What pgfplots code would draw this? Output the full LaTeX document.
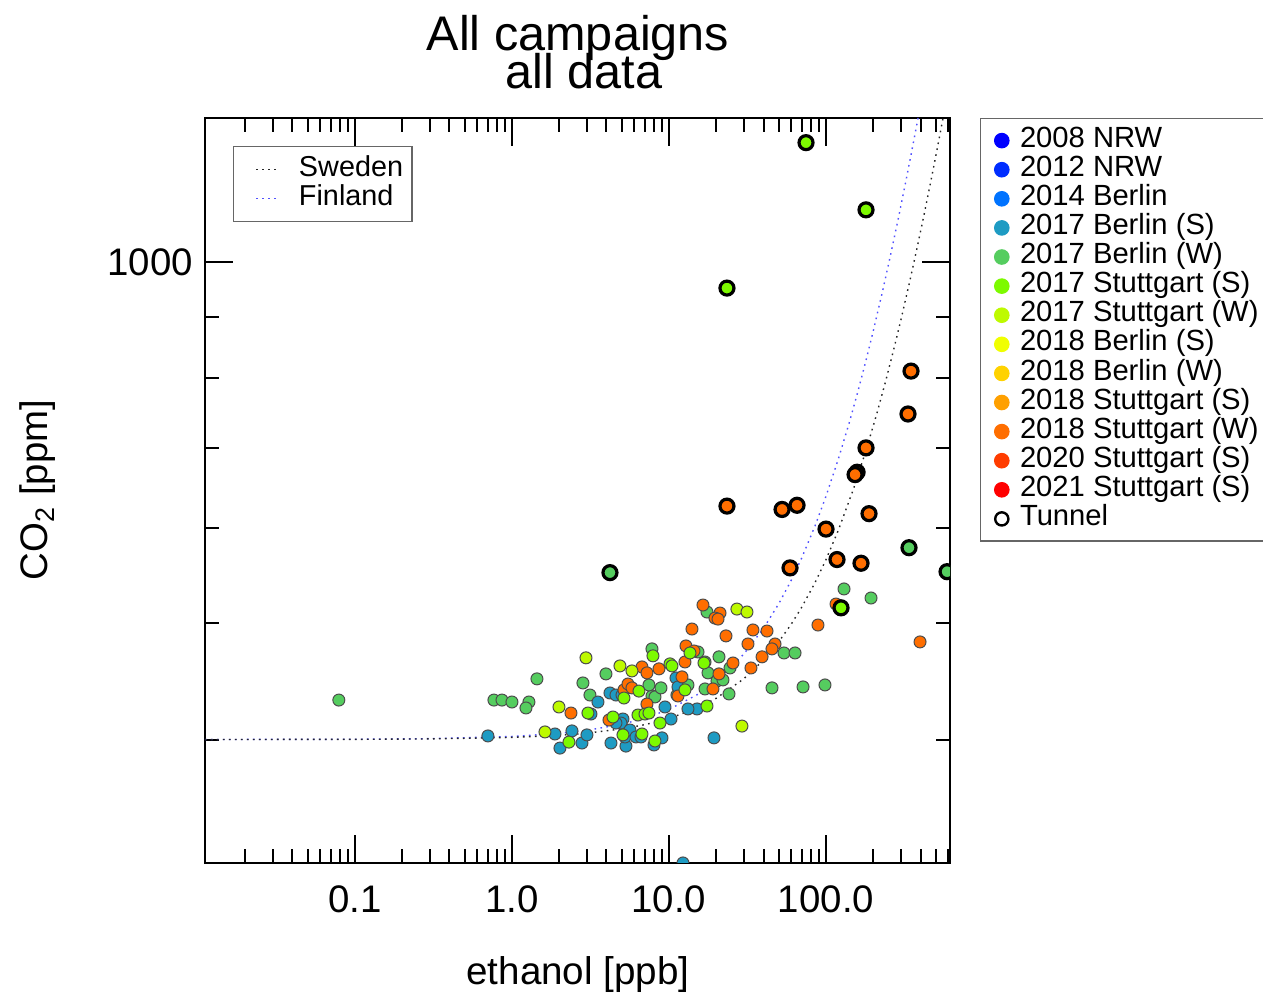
\documentclass[border=0pt]{standalone}
\usepackage{fontspec}
\setmainfont{Liberation Sans}
\usepackage{pgfplots}
\pgfplotsset{compat=1.18}

\definecolor{cA}{RGB}{0,0,255}
\definecolor{cB}{RGB}{0,45,255}
\definecolor{cC}{RGB}{0,115,255}
\definecolor{cD}{RGB}{30,155,195}
\definecolor{cE}{RGB}{85,205,95}
\definecolor{cF}{RGB}{125,250,0}
\definecolor{cG}{RGB}{190,250,0}
\definecolor{cH}{RGB}{240,255,0}
\definecolor{cI}{RGB}{255,210,0}
\definecolor{cJ}{RGB}{255,160,0}
\definecolor{cK}{RGB}{255,110,0}
\definecolor{cL}{RGB}{255,60,0}
\definecolor{cM}{RGB}{255,0,0}
\definecolor{finl}{RGB}{80,80,255}

\tikzset{
  dotpt/.style={only marks, mark=*, mark size=3pt, mark options={draw=black!70, line width=0.5pt, fill=#1}},
  tunpt/.style={only marks, mark=*, mark size=3.5pt, mark options={draw=black, line width=1.6pt, fill=#1}},
  legpt/.style={only marks, mark=*, mark size=3.6pt, mark options={draw=#1, fill=#1}},
  swedenline/.style={black!85, line width=0.7pt, dash pattern=on 0.8pt off 2.2pt},
  finlandline/.style={finl, line width=0.7pt, dash pattern=on 0.8pt off 2.2pt},
}

\begin{document}
\begin{tikzpicture}
\begin{axis}[name=ax, scale only axis, width=372.5pt, height=372.5pt,
  xmode=log, ymode=log, xmin=0.0111, xmax=616, ymin=315.7, ymax=1318,
  clip marker paths=true,
  xtick={0.1,1,10,100}, xticklabels={0.1,1.0,10.0,100.0},
  minor xtick={0.02,0.03,0.04,0.05,0.06,0.07,0.08,0.09,0.2,0.3,0.4,0.5,0.6,0.7,0.8,0.9,2,3,4,5,6,7,8,9,20,30,40,50,60,70,80,90,200,300,400,500,600},
  ytick={1000}, yticklabels={1000},
  minor ytick={400,500,600,700,800,900},
  major tick length=14pt, minor tick length=7pt,
  tick style={black, line width=1pt},
  axis line style={line width=1.2pt},
  tick label style={font=\fontsize{19.2}{21}\selectfont},
  xticklabel style={anchor=base, yshift=-25pt},
  yticklabel style={anchor=east, xshift=-2.5pt},
  legend style={at={(1,1)}, anchor=north west, xshift=15pt, draw=black!60, line width=0.6pt,
    font=\fontsize{14.6}{14.5}\selectfont, inner xsep=7pt, inner ysep=3.75pt, column sep=3.5pt,
    nodes={inner xsep=2pt, inner ysep=0pt, text height=10.6pt, text depth=3.95pt}},
  legend cell align=left,
  legend image code/.code={\draw[#1] plot coordinates {(0pt,0pt)};},
]
\addlegendimage{legpt=cA}\addlegendentry{2008 NRW}
\addlegendimage{legpt=cB}\addlegendentry{2012 NRW}
\addlegendimage{legpt=cC}\addlegendentry{2014 Berlin}
\addlegendimage{legpt=cD}\addlegendentry{2017 Berlin (S)}
\addlegendimage{legpt=cE}\addlegendentry{2017 Berlin (W)}
\addlegendimage{legpt=cF}\addlegendentry{2017 Stuttgart (S)}
\addlegendimage{legpt=cG}\addlegendentry{2017 Stuttgart (W)}
\addlegendimage{legpt=cH}\addlegendentry{2018 Berlin (S)}
\addlegendimage{legpt=cI}\addlegendentry{2018 Berlin (W)}
\addlegendimage{legpt=cJ}\addlegendentry{2018 Stuttgart (S)}
\addlegendimage{legpt=cK}\addlegendentry{2018 Stuttgart (W)}
\addlegendimage{legpt=cL}\addlegendentry{2020 Stuttgart (S)}
\addlegendimage{legpt=cM}\addlegendentry{2021 Stuttgart (S)}
\addlegendimage{only marks, mark=o, mark size=3.3pt, black, line width=1.2pt}\addlegendentry{Tunnel}

% Finland and Sweden emission lines
\addplot[finlandline, forget plot] coordinates {(0.0111,400.03) (0.1,400.24) (0.3,400.71) (1,402.38) (2,404.76) (3,407.14) (5,411.9) (7,416.66) (10,423.8) (15,435.7) (20,447.6) (30,471.4) (40,495.2) (50,519) (60,542.8) (70,566.6) (85,602.3) (100,638) (120,685.6) (140,733.2) (160,780.8) (180,828.4) (200,876) (230,947.4) (260,1018.8) (290,1090.2) (320,1161.6) (350,1233) (380,1304.4) (400,1352)};
\addplot[swedenline, forget plot] coordinates {(0.0111,400.02) (0.1,400.17) (0.3,400.5) (1,401.65) (2,403.3) (3,404.95) (5,408.25) (7,411.55) (10,416.5) (15,424.75) (20,433) (30,449.5) (40,466) (50,482.5) (60,499) (70,515.5) (85,540.25) (100,565) (120,598) (150,647.5) (180,697) (210,746.5) (240,796) (270,845.5) (300,895) (340,961) (380,1027) (420,1093) (460,1159) (500,1225) (540,1291) (580,1357)};

% 2017 Berlin (W)
\addplot[dotpt=cE, forget plot] coordinates {(0.079,431.5) (0.768,431.5) (0.864,431.5) (1.0,429.9) (1.283,429.9) (1.228,425.0) (1.443,449.4) (2.832,445.9) (3.139,435.7) (3.970,453.7) (7.793,476.0) (7.793,434.9) (8.144,434.1) (7.457,444.2) (8.893,441.7) (11.75,445.9) (13.21,444.2) (11.24,435.7) (15.31,473.2) (16.96,464.2) (17.46,510.9) (20.82,468.8) (24.47,458.9) (16.96,440.8) (17.72,454.6) (20.22,447.6) (22.07,448.5) (24.11,436.6) (54.0,472.3) (63.5,472.3) (45.3,441.7) (71.4,442.5) (98.5,444.2) (130.2,534.0) (193.5,524.8)};
% 2017 Berlin (S)
\addplot[dotpt=cD, forget plot] coordinates {(0.703,402.8) (1.879,404.3) (2.022,393.6) (2.411,406.7) (2.791,397.4) (3.004,403.6) (3.530,429.9) (3.185,420.1) (4.209,437.4) (4.596,435.7) (5.019,435.7) (4.733,415.3) (5.093,416.1) (4.946,412.9) (4.596,412.9) (4.272,397.4) (5.322,395.1) (5.245,402.0) (5.644,407.4) (6.164,402.0) (6.632,402.0) (9.430,425.8) (10.30,416.1) (9.025,401.3) (8.025,395.9) (11.08,450.2) (11.41,442.5) (15.09,424.2) (13.21,424.2) (19.35,401.3) (12.28,315.7)};
% 2018 Stuttgart (W)
\addplot[dotpt=cK, forget plot] coordinates {(2.376,420.9) (5.168,440.0) (5.481,445.0) (5.812,441.7) (4.148,415.3) (6.730,459.8) (7.242,454.6) (7.242,428.2) (8.636,458.1) (12.10,451.1) (11.41,434.9) (12.83,478.7) (14.43,474.1) (12.64,464.2) (14.01,494.5) (16.46,517.8) (21.13,509.9) (19.63,505.0) (20.52,504.0) (23.07,488.0) (34.27,493.6) (42.09,492.6) (31.85,480.5) (25.56,463.3) (33.28,458.9) (20.82,453.7) (19.06,440.8) (47.33,480.5) (45.28,476.0) (39.16,468.8) (88.9,498.3) (115.8,518.8) (397,482.4)};
% 2017 Stuttgart (S)
\addplot[dotpt=cF, forget plot] coordinates {(2.307,398.1) (3.048,420.9) (4.399,417.7) (5.168,433.2) (6.441,439.0) (5.093,403.6) (6.730,404.3) (7.908,469.7) (6.347,419.3) (7.033,420.1) (7.457,420.9) (10.15,462.5) (10.45,460.7) (8.763,412.9) (8.144,399.0) (12.64,440.0) (13.61,472.3) (17.46,426.6) (16.71,463.3)};
% 2017 Stuttgart (W)
\addplot[dotpt=cG, forget plot] coordinates {(1.623,405.9) (1.993,425.8) (2.961,467.9) (4.874,460.7) (5.812,456.3) (27.08,513.8) (31.39,510.9) (29.15,410.5)};

% Tunnel
\addplot[tunpt=cK, forget plot] coordinates {(347.8,811) (332.8,747) (179.8,700) (157.7,668) (153.1,665) (23.4,626) (52.5,622) (65.4,627) (187.9,617) (100,599) (117.5,565) (167.1,561) (59.0,556)};
\addplot[tunpt=cE, forget plot] coordinates {(4.21,551) (337.7,578) (590,552)};
\addplot[tunpt=cF, forget plot] coordinates {(74.6,1257) (179.8,1105) (23.4,951) (124.6,515)};
\end{axis}

\begin{axis}[scale only axis, width=372.5pt, height=372.5pt,
  xmode=log, ymode=log, xmin=0.0111, xmax=616, ymin=315.7, ymax=1318, hide axis,
  legend style={at={(0,1)}, anchor=north west, xshift=14pt, yshift=-14pt, draw=black!60, line width=0.6pt,
    font=\fontsize{14.4}{14.5}\selectfont, inner xsep=2.5pt, inner ysep=4.25pt, column sep=8pt,
    nodes={inner xsep=2pt, inner ysep=0pt, text height=10.6pt, text depth=3.9pt}},
  legend cell align=left,
  legend image code/.code={\path (0pt,0pt); \draw[#1] (8.5pt,0pt) -- (19.5pt,0pt);},
]
\addlegendimage{swedenline}\addlegendentry{Sweden}
\addlegendimage{finlandline}\addlegendentry{Finland}
\end{axis}

\node[anchor=base, font=\fontsize{24.3}{28}\selectfont] at ([shift={(186.5pt,406pt)}]ax.south west) {All campaigns};
\node[anchor=base, font=\fontsize{24.3}{28}\selectfont] at ([shift={(189.5pt,387pt)}]ax.south west) {all data};
\node[anchor=base, font=\fontsize{19.3}{22}\selectfont] at ([shift={(186.5pt,-61pt)}]ax.south west) {ethanol [ppb]};
\node[anchor=base, rotate=90, font=\fontsize{19.2}{22}\selectfont] at ([shift={(-78.5pt,186.5pt)}]ax.south west) {CO\textsubscript{2} [ppm]};

\pgfresetboundingbox
\path[use as bounding box] ([shift={(-102.5pt,-65.5pt)}]ax.south west) rectangle ([shift={(529pt,431.5pt)}]ax.south west);
\end{tikzpicture}
\end{document}
